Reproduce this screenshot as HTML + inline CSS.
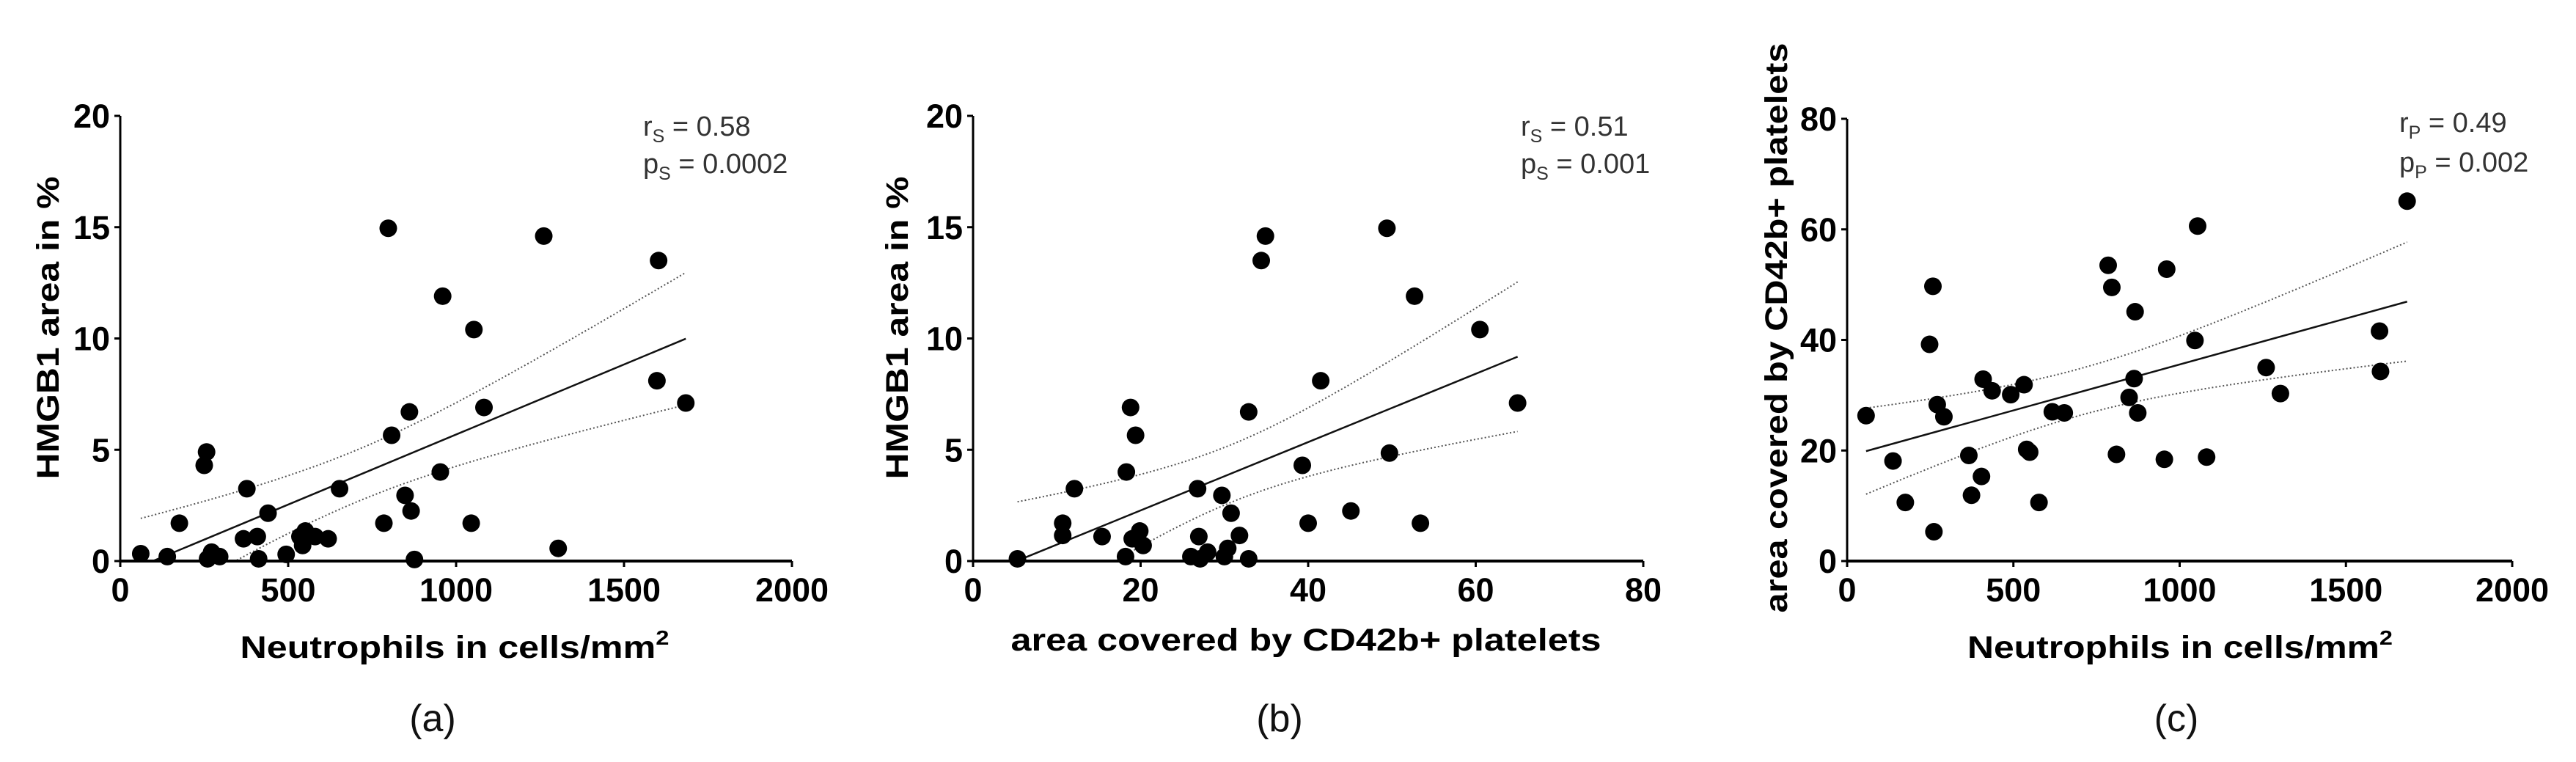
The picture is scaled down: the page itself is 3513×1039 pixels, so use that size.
<!DOCTYPE html>
<html><head><meta charset="utf-8">
<style>
html,body{margin:0;padding:0;background:#fff;}
svg{display:block;font-family:"Liberation Sans",Arial,sans-serif;}
</style></head>
<body>
<svg id="fig" width="3513" height="1039" viewBox="0 0 3513 1039" xmlns="http://www.w3.org/2000/svg"></svg>
<script>
// Panel (a): neutrophils vs HMGB1
const aX = [61,140,176,250,257,260,272,296,377,367,408,412,440,494,535,543,551,580,619,653,785,798,808,848,861,866,876,953,960,1045,1053,1083,1261,1304,1598,1603,1684];
const aY = [0.33,0.2,1.7,4.3,4.9,0.1,0.4,0.2,3.25,1.0,1.1,0.1,2.15,0.3,1.1,0.7,1.35,1.1,1.0,3.25,1.7,14.95,5.65,2.95,6.7,2.25,0.07,4.0,11.9,1.7,10.4,6.9,14.6,0.57,8.1,13.5,7.1];
// Panel (b): platelets vs HMGB1
const bX = [5.3,10.7,10.7,12.1,15.4,18.2,18.3,18.8,19.4,19.0,19.9,20.3,26.0,26.8,26.95,27.1,28.0,29.7,30.0,30.4,30.8,31.8,32.9,32.9,34.4,34.9,39.3,40.0,41.5,45.1,49.4,49.7,52.7,53.4,60.5,65.0];
const bY = [0.1,1.7,1.15,3.25,1.1,0.2,4.0,6.9,5.65,1.0,1.35,0.7,0.2,3.25,1.1,0.1,0.4,2.95,0.2,0.57,2.15,1.15,0.1,6.7,13.5,14.6,4.3,1.7,8.1,2.25,14.95,4.85,11.9,1.7,10.4,7.1];
// Panel (c): neutrophils vs platelets
const cX = [57,138,175,248,258,261,271,291,366,374,404,409,436,492,532,540,549,577,617,653,785,796,810,848,863,866,874,954,961,1046,1054,1081,1260,1303,1601,1604,1684];
const cY = [26.3,18.1,10.6,39.2,49.7,5.3,28.3,26.1,19.1,11.9,15.3,32.9,30.8,30.1,31.9,20.2,19.7,10.6,27.0,26.8,53.5,49.5,19.3,29.6,33.0,45.1,26.8,18.4,52.8,39.9,60.6,18.8,35.0,30.3,41.6,34.3,65.1];
const aXTicks = [0,500,1000,1500,2000];
const aYTicks = [0,5,10,15,20];
const bXTicks = [0,20,40,60,80];
const bYTicks = [0,5,10,15,20];
const cXTicks = [0,500,1000,1500,2000];
const cYTicks = [0,20,40,60,80];
const aStats = ["0.58","0.0002"];
const bStats = ["0.51","0.001"];
const cStats = ["0.49","0.002"];

const NS = "http://www.w3.org/2000/svg";
const svg = document.getElementById('fig');
function mk(tag, attrs, parent, text){
  const e = document.createElementNS(NS, tag);
  for (const k in attrs) e.setAttribute(k, attrs[k]);
  if (text !== undefined) e.textContent = text;
  (parent || svg).appendChild(e);
  return e;
}

function panel(cfg){
  const g = mk('g', {});
  
  
  const x0 = cfg.left, x1 = cfg.right, y0 = 765, y1 = cfg.top;
  const xmax = cfg.xt[cfg.xt.length-1], ymax = cfg.yt[cfg.yt.length-1];
  const sx = v => x0 + v / xmax * (x1 - x0);
  const sy = v => y0 - v / ymax * (y0 - y1);
  const clipId = cfg.name + '-clip';
  const defs = mk('defs', {}, g);
  const cp = mk('clipPath', {id: clipId}, defs);
  mk('rect', {x: x0, y: y1 - 20, width: x1 - x0, height: y0 - y1 + 20}, cp);

  const X = cfg.x, Y = cfg.y, n = X.length;
  const mx = X.reduce((s,v)=>s+v,0)/n, my = Y.reduce((s,v)=>s+v,0)/n;
  let sxx=0, sxy=0;
  for (let i=0;i<n;i++){ sxx += (X[i]-mx)**2; sxy += (X[i]-mx)*(Y[i]-my); }
  const slope = sxy/sxx, icpt = my - slope*mx;
  let sse=0; for (let i=0;i<n;i++) sse += (Y[i]-icpt-slope*X[i])**2;
  const s = Math.sqrt(sse/(n-2)), t = 2.03;
  const xmin = Math.min(...X), xmx = Math.max(...X);
  let up='', lo='';
  for (let k=0;k<=60;k++){
    const xv = xmin + (xmx-xmin)*k/60;
    const yh = icpt + slope*xv;
    const h = t*s*Math.sqrt(1/n + (xv-mx)**2/sxx);
    up += (k?'L':'M') + sx(xv).toFixed(1) + ' ' + sy(yh+h).toFixed(1);
    lo += (k?'L':'M') + sx(xv).toFixed(1) + ' ' + sy(yh-h).toFixed(1);
  }
  const cu = mk('path', {d: up, fill:'none', stroke:'#555', 'stroke-width':2, 'stroke-dasharray':'2 3', 'clip-path':'url(#'+clipId+')'}, g);
  
  
  const cl = mk('path', {d: lo, fill:'none', stroke:'#555', 'stroke-width':2, 'stroke-dasharray':'2 3', 'clip-path':'url(#'+clipId+')'}, g);
  
  
  const rl = mk('line', {x1: sx(xmin), y1: sy(icpt+slope*xmin), x2: sx(xmx), y2: sy(icpt+slope*xmx), stroke:'#111', 'stroke-width':2.5, 'clip-path':'url(#'+clipId+')'}, g);
  
  

  for (let i=0;i<n;i++){
    const c = mk('circle', {cx: sx(X[i]), cy: sy(Y[i]), r: 12, fill:'#000'}, g);
    
    
  }

  const ya = mk('line', {x1:x0, y1:y1, x2:x0, y2:y0, stroke:'#000', 'stroke-width':3}, g);
  
  
  const xa = mk('line', {x1:x0, y1:y0, x2:x1, y2:y0, stroke:'#000', 'stroke-width':4}, g);
  
  
  cfg.yt.forEach(v=>{
    mk('line', {x1:x0-8, y1:sy(v), x2:x0, y2:sy(v), stroke:'#000', 'stroke-width':3}, g);
    const tl = mk('text', {x:x0-14, y:sy(v)+16, 'text-anchor':'end', 'font-size':45, 'font-weight':'bold'}, g, String(v));
    
    
  });
  cfg.xt.forEach(v=>{
    mk('line', {x1:sx(v), y1:y0, x2:sx(v), y2:y0+8, stroke:'#000', 'stroke-width':3}, g);
    const tl = mk('text', {x:sx(v), y:820, 'text-anchor':'middle', 'font-size':45, 'font-weight':'bold'}, g, String(v));
    
    
  });
  const xt = mk('text', {x:cfg.xtx, y:cfg.xty, 'text-anchor':'middle', 'font-size':43, 'font-weight':'bold', textLength:cfg.xtl, lengthAdjust:'spacingAndGlyphs'}, g);
  
  
  xt.textContent = cfg.xtitle;
  if (cfg.sup){ mk('tspan', {dy:-18, 'font-size':28}, xt, '2'); }
  const yt = mk('text', {x:0, y:0, 'text-anchor':'middle', 'font-size':43, 'font-weight':'bold', textLength:cfg.ytl, lengthAdjust:'spacingAndGlyphs', transform:'translate('+cfg.ytx+',447) rotate(-90)'}, g, cfg.ytitle);
  
  
  const st = mk('g', {fill:'#333'}, g);
  
  
  const t1 = mk('text', {x:cfg.stx, y:cfg.sty1, 'font-size':38}, st);
  mk('tspan', {}, t1, 'r');
  mk('tspan', {'font-size':25, dy:9}, t1, cfg.sub);
  mk('tspan', {dy:-9}, t1, ' = ' + cfg.stats[0]);
  const t2 = mk('text', {x:cfg.stx, y:cfg.sty2, 'font-size':38}, st);
  mk('tspan', {}, t2, 'p');
  mk('tspan', {'font-size':25, dy:9}, t2, cfg.sub);
  mk('tspan', {dy:-9}, t2, ' = ' + cfg.stats[1]);
  const lab = mk('text', {x:cfg.lx, y:997, 'text-anchor':'middle', 'font-size':52, fill:'#111'}, g, cfg.label);
  
  
}

panel({name:'panel-a', left:164, right:1080, top:158, x:aX, y:aY, xt:aXTicks, yt:aYTicks,
  xtitle:'Neutrophils in cells/mm', sup:true, xtx:620, xty:897, xtl:585,
  ytitle:'HMGB1 area in %', ytx:80, ytl:413,
  stx:877, sty1:185, sty2:236, sub:'S', stats:aStats, label:'(a)', lx:590});
panel({name:'panel-b', left:1327, right:2241, top:158, x:bX, y:bY, xt:bXTicks, yt:bYTicks,
  xtitle:'area covered by CD42b+ platelets', sup:false, xtx:1781, xty:887, xtl:805,
  ytitle:'HMGB1 area in %', ytx:1238, ytl:413,
  stx:2074, sty1:185, sty2:236, sub:'S', stats:bStats, label:'(b)', lx:1745});
panel({name:'panel-c', left:2519, right:3426, top:162, x:cX, y:cY, xt:cXTicks, yt:cYTicks,
  xtitle:'Neutrophils in cells/mm', sup:true, xtx:2973, xty:897, xtl:580,
  ytitle:'area covered by CD42b+ platelets', ytx:2437, ytl:777,
  stx:3272, sty1:180, sty2:234, sub:'P', stats:cStats, label:'(c)', lx:2968});
</script>
</body></html>
